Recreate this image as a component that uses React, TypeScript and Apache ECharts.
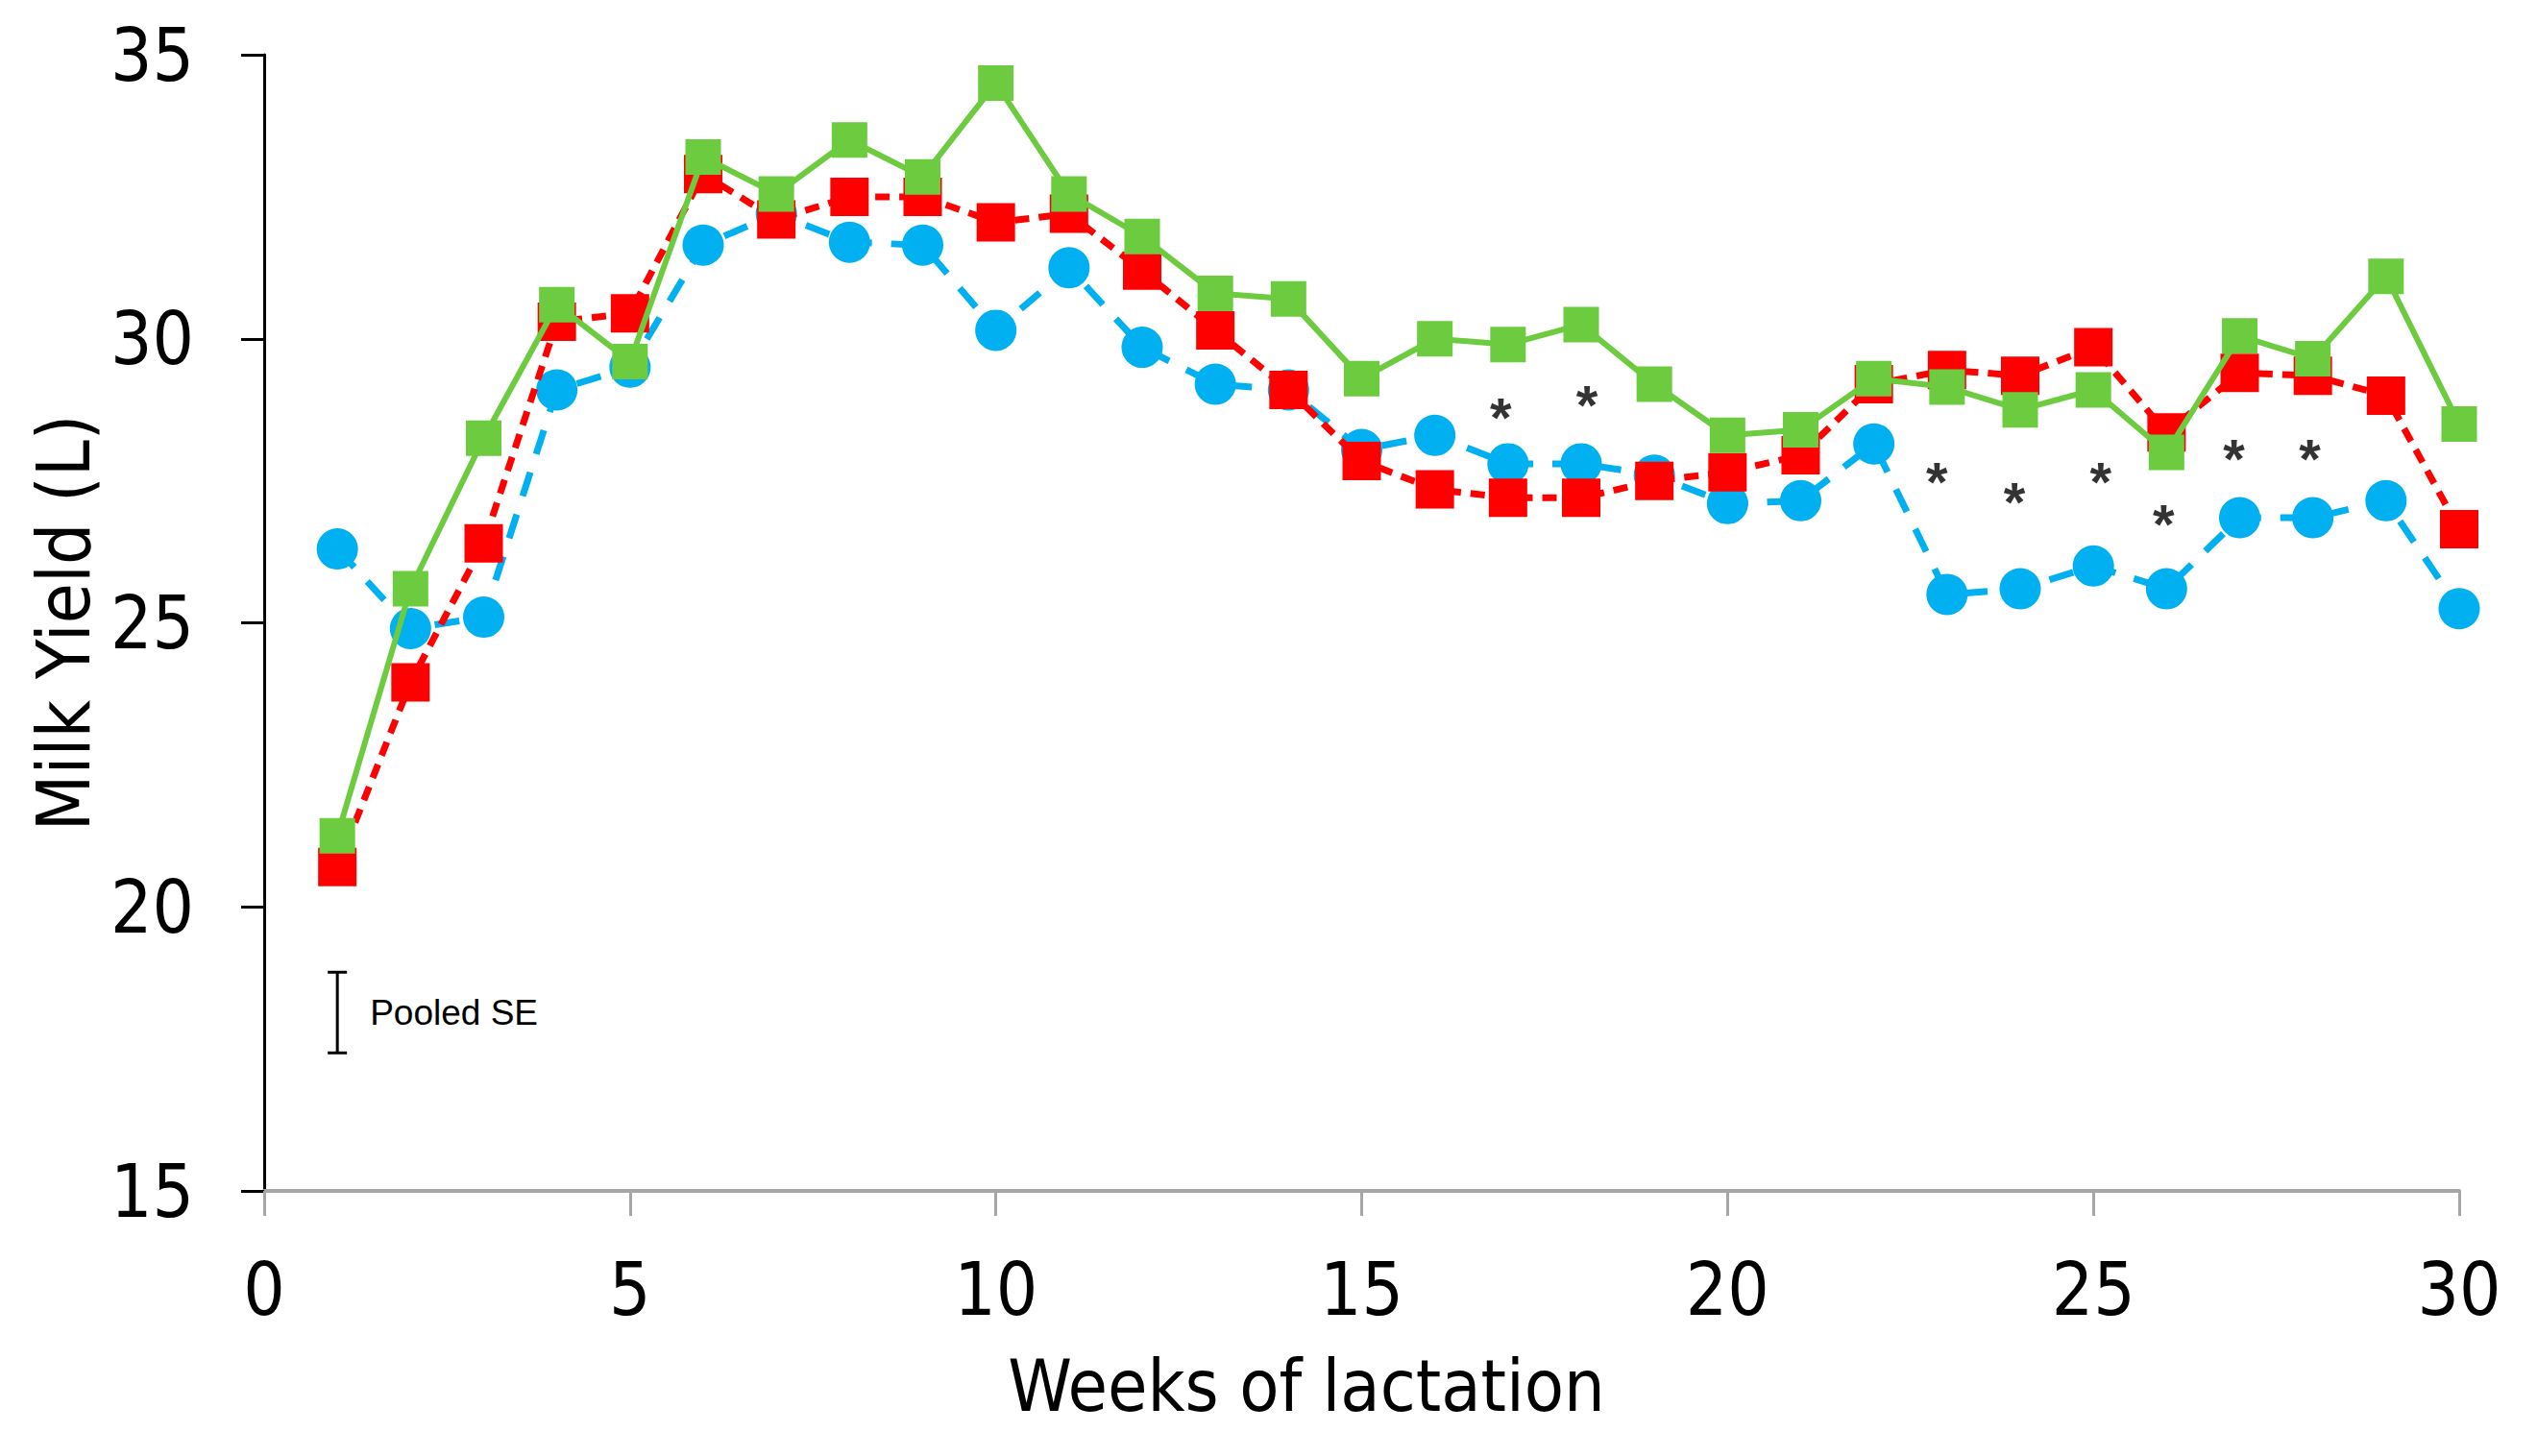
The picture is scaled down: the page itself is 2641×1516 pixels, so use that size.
import React, { useEffect, useRef } from "react";
import * as echarts from "echarts";

const weeks = [1, 2, 3, 4, 5, 6, 7, 8, 9, 10, 11, 12, 13, 14, 15, 16, 17, 18, 19, 20, 21, 22, 23, 24, 25, 26, 27, 28, 29, 30];
const blueValues = [26.3, 24.9, 25.1, 29.1, 29.5, 31.65, 32.2, 31.7, 31.65, 30.15, 31.25, 29.85, 29.2, 29.1, 28.05, 28.3, 27.8, 27.8, 27.6, 27.1, 27.15, 28.15, 25.5, 25.6, 26.0, 25.6, 26.85, 26.85, 27.15, 25.25];
const redValues = [20.7, 23.95, 26.4, 30.3, 30.45, 32.9, 32.1, 32.5, 32.5, 32.05, 32.2, 31.2, 30.15, 29.1, 27.85, 27.35, 27.2, 27.2, 27.5, 27.65, 27.95, 29.2, 29.45, 29.35, 29.85, 28.35, 29.4, 29.35, 29.0, 26.65];
const greenValues = [21.25, 25.6, 28.25, 30.6, 29.6, 33.2, 32.55, 33.5, 32.85, 34.5, 32.55, 31.8, 30.8, 30.7, 29.3, 30.0, 29.9, 30.25, 29.2, 28.3, 28.4, 29.3, 29.15, 28.75, 29.1, 28.0, 30.05, 29.65, 31.1, 28.5];

const starWeeks = [16.9, 18.08, 22.86, 23.92, 25.1, 25.96, 26.92, 27.96];
const starValues = [28.8, 29.03, 27.67, 27.32, 27.67, 26.93, 28.07, 28.08];

const seWeek = 1;
const seLow = 17.43;
const seHigh = 18.85;
const seLabel = "Pooled SE";

const xTicks = { min: 0, max: 30, interval: 5 };
const yTicks = { min: 15, max: 35, interval: 5 };

const FONT = "'DejaVu Sans Condensed', 'DejaVu Sans', sans-serif";
const SANS = "'Liberation Sans', Arial, sans-serif";

export default function App() {
  const ref = useRef<HTMLDivElement>(null);
  useEffect(() => {
    if (!ref.current) return;
    const chart = echarts.init(ref.current, null, { renderer: "svg" });
    const pair = (vals: number[]) => weeks.map((w, i) => [w, vals[i]]);
    chart.setOption({
      animation: false,
      backgroundColor: "#fff",
      grid: { left: 275, right: 81, top: 57, bottom: 276, containLabel: false },
      xAxis: {
        type: "value",
        min: xTicks.min,
        max: xTicks.max,
        interval: xTicks.interval,
        name: "Weeks of lactation",
        nameLocation: "middle",
        nameGap: 165,
        nameTextStyle: { fontSize: 75, fontFamily: FONT, color: "#000", padding: [0, 115, 0, 0] },
        axisLine: { show: true, lineStyle: { color: "#A6A6A6", width: 4 } },
        axisTick: { show: true, length: 26, lineStyle: { color: "#A6A6A6", width: 3 } },
        axisLabel: { fontSize: 76, fontFamily: FONT, color: "#000", margin: 64 },
        splitLine: { show: false },
      },
      yAxis: {
        type: "value",
        min: yTicks.min,
        max: yTicks.max,
        interval: yTicks.interval,
        name: "Milk Yield (L)",
        nameLocation: "middle",
        nameGap: 162,
        nameTextStyle: { fontSize: 76, fontFamily: FONT, color: "#000" },
        axisLine: { show: true, lineStyle: { color: "#000", width: 3 } },
        axisTick: { show: true, length: 24, lineStyle: { color: "#000", width: 3 } },
        axisLabel: { fontSize: 76, fontFamily: FONT, color: "#000", margin: 73 },
        splitLine: { show: false },
      },
      series: [
        {
          type: "line",
          data: pair(blueValues),
          symbol: "circle",
          symbolSize: 43,
          itemStyle: { color: "#00B0F0" },
          lineStyle: { color: "#00B0F0", width: 7, type: [26, 20] },
          z: 2,
        },
        {
          type: "line",
          data: pair(redValues),
          symbol: "rect",
          symbolSize: 40,
          itemStyle: { color: "#FF0000" },
          lineStyle: { color: "#FF0000", width: 7, type: [15, 10] },
          z: 3,
        },
        {
          type: "line",
          data: pair(greenValues),
          symbol: "rect",
          symbolSize: 37,
          itemStyle: { color: "#6CCB3F" },
          lineStyle: { color: "#6CCB3F", width: 6, type: "solid" },
          z: 4,
        },
        {
          type: "scatter",
          data: starWeeks.map((w, i) => [w, starValues[i]]),
          symbolSize: 2,
          itemStyle: { color: "rgba(0,0,0,0)" },
          label: {
            show: true,
            position: "inside",
            formatter: "*",
            fontSize: 58,
            fontWeight: "bold",
            fontFamily: SANS,
            color: "#000",
            offset: [0, 11],
          },
          z: 5,
        },
        {
          type: "custom",
          data: [[seWeek, seLow, seHigh]],
          renderItem: (params: any, api: any) => {
            const x = api.value(0);
            const top = api.coord([x, api.value(2)]);
            const bot = api.coord([x, api.value(1)]);
            const cap = 10;
            const st = { stroke: "#000", lineWidth: 3 };
            return {
              type: "group",
              children: [
                { type: "line", shape: { x1: top[0], y1: top[1], x2: bot[0], y2: bot[1] }, style: st },
                { type: "line", shape: { x1: top[0] - cap, y1: top[1], x2: top[0] + cap, y2: top[1] }, style: st },
                { type: "line", shape: { x1: bot[0] - cap, y1: bot[1], x2: bot[0] + cap, y2: bot[1] }, style: st },
                {
                  type: "text",
                  x: top[0] + 34,
                  y: (top[1] + bot[1]) / 2,
                  style: {
                    text: seLabel,
                    fontSize: 37,
                    fontFamily: SANS,
                    fill: "#000",
                    align: "left",
                    verticalAlign: "middle",
                  },
                },
              ],
            };
          },
          z: 5,
        },
      ],
    });
    return () => chart.dispose();
  }, []);
  return (
    <div
      ref={ref}
      style={{ position: "fixed", left: 0, top: 0, width: 2641, height: 1516, background: "#fff" }}
    />
  );
}
